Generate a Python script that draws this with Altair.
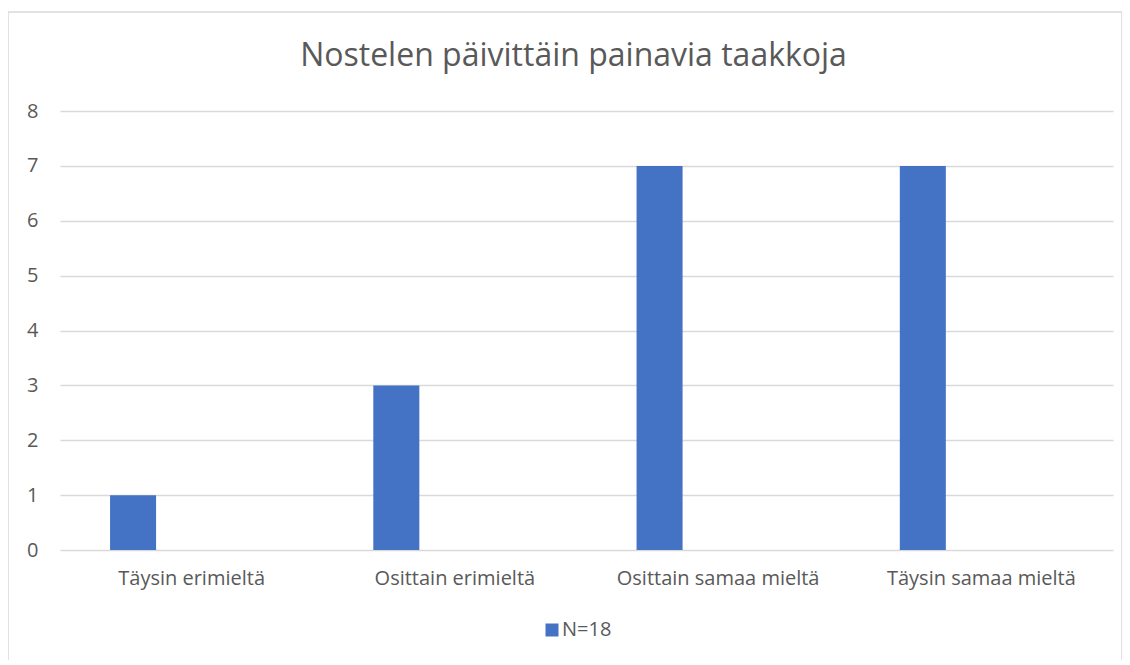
import altair as alt
import pandas as pd

categories = ["Täysin erimieltä", "Osittain erimieltä", "Osittain samaa mieltä", "Täysin samaa mieltä"]
values = [1, 3, 7, 7]
series_name = "N=18"
offset_slots = ["N=18", "slot2", "slot3"]
y_ticks = [0, 1, 2, 3, 4, 5, 6, 7, 8]
title_text = "Nostelen päivittäin painavia taakkoja"

df = pd.DataFrame({"category": categories, "value": values, "series": [series_name] * len(categories)})

FONT = "Open Sans"
GREY = "#595959"
GRID = "#d9d9d9"
BLUE = "#4472c4"

bars = alt.Chart(df).mark_bar(color=BLUE).encode(
    x=alt.X("category:N", sort=categories,
            scale=alt.Scale(paddingInner=0, paddingOuter=0),
            axis=alt.Axis(title=None, labelAngle=0, domain=False, ticks=False, grid=False,
                          labelFontSize=20, labelColor=GREY, labelFont=FONT, labelPadding=18,
                          labelLimit=400)),
    xOffset=alt.XOffset("series:N",
                        scale=alt.Scale(domain=offset_slots, paddingInner=0.214, paddingOuter=0.855)),
    y=alt.Y("value:Q", scale=alt.Scale(domain=[0, 8], nice=False),
            axis=alt.Axis(title=None, values=y_ticks, domain=False, ticks=False, grid=True,
                          gridColor=GRID, gridWidth=1.3, labelFontSize=20, labelColor=GREY,
                          labelFont=FONT, labelPadding=22)),
    color=alt.Color("series:N", scale=alt.Scale(domain=[series_name], range=[BLUE]),
                    legend=alt.Legend(title=None, orient="none", legendX=482, legendY=509,
                                      symbolType="square", symbolSize=169, symbolStrokeWidth=0,
                                      labelFontSize=20, labelColor=GREY, labelFont=FONT,
                                      labelOffset=0, padding=0)),
)

frame = alt.Chart(pd.DataFrame({"f": [0]})).mark_rect(
    fill="transparent", stroke=GRID, strokeWidth=1.5
).encode(
    x=alt.value(-52), x2=alt.value(1062), y=alt.value(-99), y2=alt.value(560)
)

chart = alt.layer(bars, frame).properties(
    width=1053, height=439,
    view=alt.ViewBackground(stroke="transparent", strokeWidth=0),
    title=alt.TitleParams(title_text, fontSize=32, font=FONT, fontWeight="normal", color=GREY,
                          anchor="middle", frame="group", dx=-13, offset=-87, baseline="alphabetic",
                          limit=1000),
    autosize=alt.AutoSizeParams(type="none"),
    padding={"left": 52, "top": 103, "right": 9, "bottom": 110},
).configure_view(stroke="transparent", strokeWidth=0, strokeOpacity=0).configure_axisX(
    grid=False
).configure(background="white")

chart.save("out.html", embed_options={"renderer": "svg", "actions": False})
